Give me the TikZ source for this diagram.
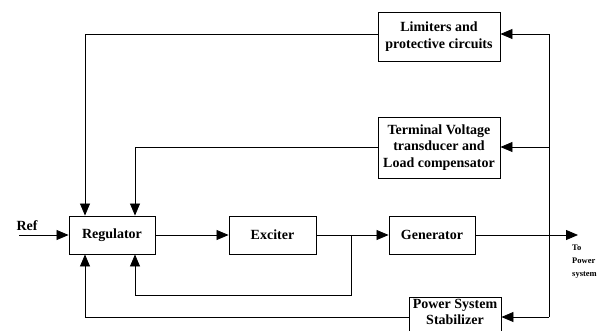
\documentclass[tikz,border=0pt]{standalone}
\usepackage{fontspec}
\setmainfont{Liberation Serif}
\usetikzlibrary{arrows.meta}
\begin{document}
\begin{tikzpicture}[x=1pt,y=-1pt,
  blk/.style={draw,line width=0.9pt,fill=white,inner sep=0pt,align=center,
    font=\fontsize{14}{16.5}\selectfont\bfseries},
  wire/.style={line width=0.8pt},
  arr/.style={wire,-{Triangle[length=12pt,width=10pt]}}]
\useasboundingbox (0,0) rectangle (608,330);
\clip (0,0) rectangle (608,330);

% blocks
\node[blk,minimum width=86pt,minimum height=38pt] (reg) at (112,235) {Regulator};
\node[blk,minimum width=87pt,minimum height=38pt] (exc) at (272.5,235) {Exciter};
\node[blk,minimum width=86pt,minimum height=38pt] (gen) at (432,235) {Generator};
\node[blk,minimum width=122pt,minimum height=49pt] (lim) at (439,36.5) {Limiters and\\protective circuits};
\node[blk,minimum width=122pt,minimum height=61pt] (tvt) at (439,147.5) {Terminal Voltage\\transducer and\\Load compensator};
\node[blk,minimum width=92pt,minimum height=42pt,anchor=north] (pss) at (455,297) {};
\node[font=\fontsize{14}{16.5}\selectfont\bfseries,align=center,anchor=north,inner sep=0pt] (psst) at (455,299) {Power System\\Stabilizer};

% helper points
\coordinate (xa) at (85,0);
\coordinate (xb) at (135,0);
\coordinate (ref) at (19,235);
\coordinate (br) at (351,235);
\coordinate (out) at (578,235);
\coordinate (ft) at (549,34);
\coordinate (fm) at (549,147);
\coordinate (fb) at (549,317);
\coordinate (yr) at (0,295);

% forward path
\draw[arr] (ref) -- (reg.west);
\node[font=\fontsize{14}{16}\selectfont\bfseries,inner sep=0pt] (reflbl) at (27,226) {Ref};
\draw[arr] (reg.east) -- (exc.west);
\draw[arr] (exc.east) -- (gen.west);
\draw[arr] (gen.east) -- (out);
\node[font=\fontsize{8.5}{13}\selectfont\bfseries,align=left,anchor=north west,inner sep=0pt] (outlbl) at (572,245) {To\\Power\\system};

% field voltage feedback
\draw[arr] (br) -- (br |- yr) -- (xb |- yr) -- (reg.south -| xb);

% feedback bus taken from the generator output
\draw[wire] (ft) -- (fb);
\draw[arr] (ft) -- (lim.east |- ft);
\draw[arr] (fm) -- (tvt.east |- fm);
\draw[arr] (fb) -- (pss.east |- fb);

% returns into the regulator
\draw[arr] (lim.west |- ft) -| (reg.north -| xa);
\draw[arr] (tvt.west |- fm) -| (reg.north -| xb);
\draw[arr] (pss.west |- fb) -| (reg.south -| xa);
\end{tikzpicture}
\end{document}
